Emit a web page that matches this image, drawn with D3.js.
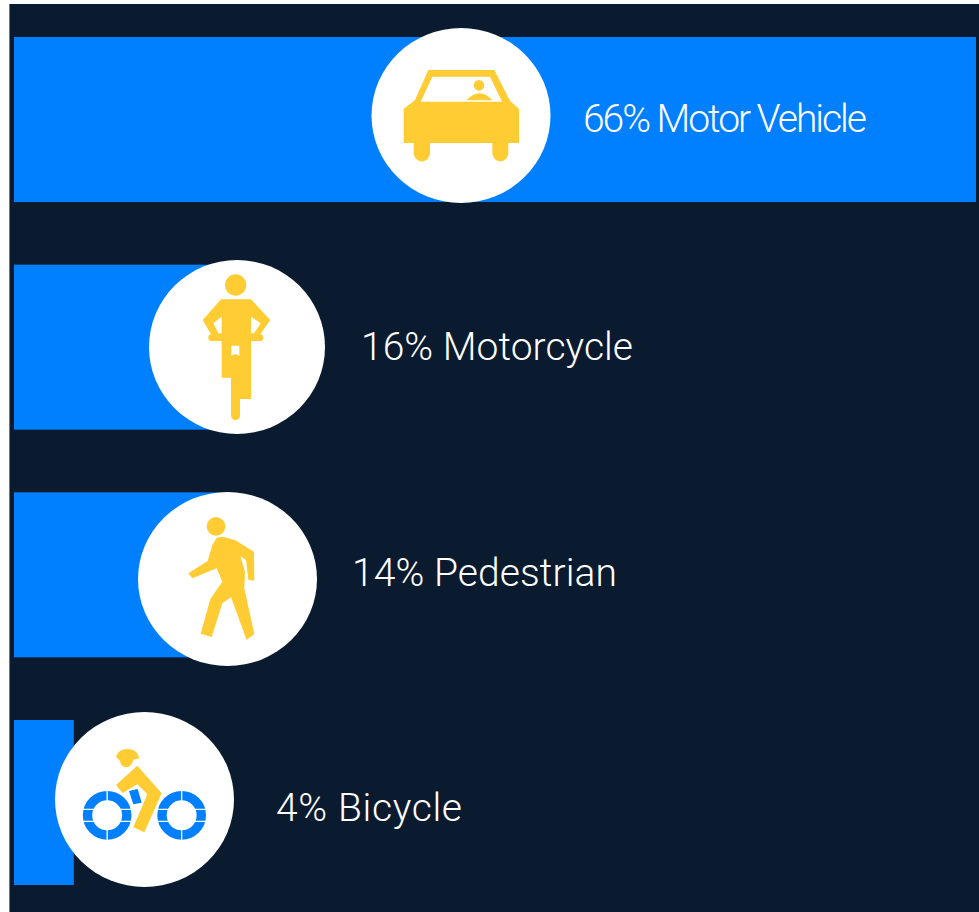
<!DOCTYPE html>
<html lang="en">
<head>
	<meta charset="utf-8">
	<title>Share by Road User</title>
	<style>
	html, body { margin: 0; background: #fff; }
	svg { display: block; }
	.label { font-family: Roboto, sans-serif; font-weight: 300; fill: #fff; }
	</style>
</head>
<body>
	<svg width="979" height="912"></svg>
	<script src="https://d3js.org/d3.v7.min.js"></script>

	<script>

	var categories = ["Motor Vehicle", "Motorcycle", "Pedestrian", "Bicycle"];
	var shares = [66, 16, 14, 4.1]; // bar lengths, as measured
	var shareLabels = ["66%", "16%", "14%", "4%"];

	var blue = "#007fff", yellow = "#ffcd33", navy = "#0a1b2f";

	var svg = d3.select("svg");

	var x = d3.scaleLinear().domain([0, 66]).range([14, 976]);

	var y = d3.scaleBand()
		.domain(categories)
		.range([37, 885])
		.paddingInner(0.2753)
		.paddingOuter(0);

	// background panel, the source is a screenshot with a thin grey edge
	svg.append("rect").attr("x", 9).attr("y", 4).attr("width", 970).attr("height", 908).attr("fill", "#6f7782");
	svg.append("rect").attr("x", 10).attr("y", 4).attr("width", 969).attr("height", 908).attr("fill", navy);

	svg.append("g").selectAll("rect")
		.data(categories)
		.enter().append("rect")
			.attr("x", x(0))
			.attr("y", function(d) { return y(d); })
			.attr("width", function(d, i) { return x(shares[i]) - x(0); })
			.attr("height", y.bandwidth())
			.attr("fill", blue);

	// badge and label placement, per category
	var badges = {
		"Motor Vehicle": { cx: 461, cy: 115.5, rx: 89.5, ry: 87.5, textX: 583, textY: 132, textW: 284 },
		"Motorcycle":    { cx: 237, cy: 347,   rx: 88,   ry: 87,   textX: 361, textY: 359.5, textW: 272 },
		"Pedestrian":    { cx: 227.5, cy: 579, rx: 89.5, ry: 87,   textX: 352, textY: 586, textW: 265 },
		"Bicycle":       { cx: 144.5, cy: 799.5, rx: 89.5, ry: 87.5, textX: 276, textY: 820.5, textW: 186 }
	};

	svg.append("g").selectAll("ellipse")
		.data(categories)
		.enter().append("ellipse")
			.attr("cx", function(d) { return badges[d].cx; })
			.attr("cy", function(d) { return badges[d].cy; })
			.attr("rx", function(d) { return badges[d].rx; })
			.attr("ry", function(d) { return badges[d].ry; })
			.attr("fill", "#fff");

	svg.append("g").selectAll("text")
		.data(categories)
		.enter().append("text")
			.attr("class", "label")
			.attr("x", function(d) { return badges[d].textX; })
			.attr("y", function(d) { return badges[d].textY; })
			.attr("font-size", 39)
			.attr("textLength", function(d) { return badges[d].textW; })
			.attr("lengthAdjust", "spacing")
			.text(function(d, i) { return shareLabels[i] + " " + d; });

	// icons are traced at 3x, so each group is scaled down by a third
	function icon(left, top) {
		return svg.append("g").attr("transform", "translate(" + left + "," + top + ") scale(0.3333)");
	}

	var car = icon(370, 20);
	car.append("path").attr("fill", yellow)
		.attr("d", "M175,150 L373,150 L420,242 L447,267 L447,369 L415,369 L415,400 A24,24 0 0 1 367,400 L367,369 L180,369 L180,400 A24.5,24.5 0 0 1 131,400 L131,369 L101,369 L101,267 L135,240 Z");
	car.append("path").attr("fill", "#fff")
		.attr("d", "M187,170 L360,170 L396,245 L152,245 Z");
	car.append("circle").attr("cx", 327).attr("cy", 196).attr("r", 16).attr("fill", yellow);
	car.append("path").attr("fill", yellow)
		.attr("d", "M289,241 Q328,198 368,241 Z");

	var moto = icon(145, 255);
	moto.append("circle").attr("cx", 272).attr("cy", 90).attr("r", 32).attr("fill", yellow);
	moto.append("path").attr("fill", yellow)
		.attr("d", "M228,133 L318,133 L376,195 L347,236 L345,238 A10,10 0 0 1 345,258 L318,258 L318,432 L285,432 L285,482 A13.5,13.5 0 0 1 258,482 L258,368 L230,368 L230,258 L200,258 A10,10 0 0 1 200,238 L197,236 L173,195 Z");
	moto.append("path").attr("fill", "#fff")
		.attr("d", "M205,205 L230,185 L230,235 L220,235 Z M318,185 L347,205 L327,235 L318,235 Z M259,272 L283,272 L283,302 L271,297 L259,302 Z");

	var walker = icon(135, 485);
	walker.append("circle").attr("cx", 243).attr("cy", 124).attr("r", 28).attr("fill", yellow);
	walker.append("path").attr("fill", yellow)
		.attr("d", "M245,158 L262,155 L300,165 L357,200 L358,287 L340,284 L333,225 L316,213 L330,260 L328,310 L358,447 L335,465 L288,337 L262,355 L230,456 L197,446 L226,342 L262,290 L245,250 L172,280 L160,265 L218,228 L232,180 Z");

	var rider = icon(50, 705);
	[171.5, 395].forEach(function(cx) {
		rider.append("circle").attr("cx", cx).attr("cy", 331).attr("r", 59)
			.attr("fill", "none").attr("stroke", blue).attr("stroke-width", 28);
		rider.append("path").attr("stroke", "#fff").attr("stroke-width", 4)
			.attr("d", "M" + cx + ",250 V410 M" + (cx - 80) + ",313 H" + (cx + 80) + " M" + (cx - 80) + ",349 H" + (cx + 80));
	});
	rider.append("path").attr("fill", blue)
		.attr("d", "M237,258 L263,252 L275,293 L250,298 Z");
	rider.append("path").attr("fill", yellow)
		.attr("d", "M262,182 L335,265 L283,382 L250,367 L292,268 L262,238 L218,264 L198,240 Z");
	rider.append("path").attr("fill", yellow)
		.attr("d", "M198,155 Q205,132 232,132 Q262,132 268,160 L250,164 Q245,187 228,187 Q212,185 210,167 Z");

	</script>
</body>
</html>
